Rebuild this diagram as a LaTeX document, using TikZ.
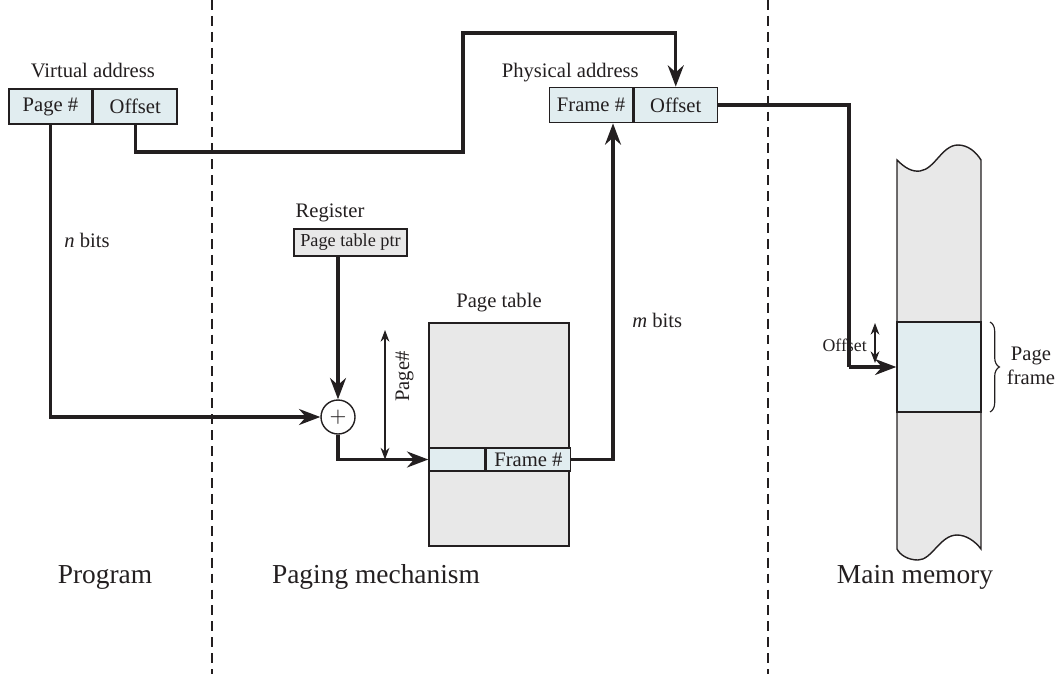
\documentclass[tikz,border=0pt]{standalone}
\usepackage{fontspec}
\setmainfont{Liberation Serif}
\usetikzlibrary{arrows.meta,calc,positioning,decorations.pathreplacing}
\definecolor{AddrBlue}{RGB}{225,237,240}
\definecolor{TableGrey}{RGB}{232,232,232}
\definecolor{InkDark}{RGB}{35,31,32}

\begin{document}
\begin{tikzpicture}[>=Stealth, x=0.015cm, y=-0.015cm,
    every node/.style={font=\fontsize{8.8}{10.5}\selectfont, text=InkDark},
    field/.style={draw=InkDark, fill=AddrBlue, line width=0.6pt,
        minimum width=1.25cm, minimum height=0.53cm, inner sep=0pt},
    regbox/.style={draw=InkDark, fill=TableGrey, line width=0.6pt,
        minimum width=1.7cm, minimum height=0.405cm, inner sep=0pt,
        font=\fontsize{7.8}{9}\selectfont},
    conn/.style={draw=InkDark, line width=1.35pt},
    idx/.style={draw=InkDark, line width=0.5pt, {Stealth[length=5pt]}-{Stealth[length=5pt]}},
    divider/.style={draw=InkDark, line width=1.1pt, dash pattern=on 4.2pt off 2.6pt},
    zone/.style={font=\fontsize{11.7}{14}\selectfont}]
\useasboundingbox (0,0) rectangle (1059,674);

% zone borders
\draw[divider] (212,0) -- (212,674);
\draw[divider] (768,0) -- (768,674);

% virtual address
\node[field] (vpage) at (50.5,106.5) {Page \#};
\node[field, right=0pt of vpage] (voff) {Offset};
\node[above=1pt of vpage.north east] (vlabel) {Virtual address};

% physical address
\node[field] (ppage) at (591,105) {Frame \#};
\node[field, right=0pt of ppage] (poff) {Offset};
\node[anchor=east] (plabel) at (647,73) {Physical address};

% register and adder
\node[regbox] (reg) at (350.5,242.5) {Page table ptr};
\node (rlabel) at (330,213) {Register};
\node[draw=InkDark, fill=white, circle, line width=0.6pt, minimum size=0.51cm,
    inner sep=0pt] (circ) at (338,417) {$+$};

% page table
\node[draw=InkDark, fill=TableGrey, line width=0.6pt, minimum width=2.1cm,
    minimum height=3.345cm] (ptab) at (499,434.5) {};
\node[above=1pt of ptab] (tlabel) {Page table};
\node[field, minimum width=0.84cm, minimum height=0.345cm] (pent) at (457,459.5) {};
\node[field, minimum width=1.26cm, minimum height=0.345cm, right=0pt of pent] (pframe) {Frame \#};

% main memory
\draw[draw=InkDark, fill=TableGrey, line width=0.6pt]
    (897,160) .. controls (905,168) and (912,172) .. (920,171)
    .. controls (935,169) and (942,145) .. (958,145)
    .. controls (968,145) and (976,152) .. (981,160) -- (981,549)
    .. controls (975,541) and (966,535) .. (957,535)
    .. controls (940,535) and (932,560) .. (918,560)
    .. controls (908,560) and (900,555) .. (897,549) -- cycle;
\node[field, minimum width=1.26cm, minimum height=1.35cm] (pfrm) at (939,367) {};
\draw[decorate, decoration={brace, amplitude=4pt}, line width=0.5pt, draw=InkDark]
    (990,322) -- (990,412);
\node[align=center] (flabel) at (1031,366) {Page\\frame};

% connectors
\coordinate (ovA) at (463,152);
\coordinate (ovB) at (463,33);
\draw[conn, ->] (vpage.south) |- (circ.west);
\draw[conn, ->] (voff.south) |- (ovA) -- (ovB) -| (poff.north);
\draw[conn, ->] (reg.south -| circ.north) -- (circ.north);
\draw[conn, ->] (circ.south) |- (pent.west);
\draw[conn, ->] (pframe.east) -| ([xshift=0.33cm]ppage.south);
\draw[conn] (poff.east) -| (849,367) coordinate (mjog);
\draw[conn, ->] (mjog) -- (pfrm.west);

% index arrows
\coordinate (pgtop) at (385,330);
\draw[idx] (pgtop) -- (pgtop |- pent.west)
    node[pos=0.36, right=1pt, rotate=90, anchor=north] (pglabel) {Page\#};
\coordinate (ofA) at (875,323);
\coordinate (ofB) at (875,363);
\draw[idx] (ofA) -- (ofB);
\node[left=0pt of ofA, anchor=north east, yshift=-0.12cm,
    font=\fontsize{7.6}{9}\selectfont] (olabel) {Offset};

% bit labels
\node (nbits) at (87,240) {\textit{n} bits};
\node[anchor=west] (mbits) at (624,320) {\textit{m} bits};

% zone names
\node[zone] (zprog) at (105,577) {Program};
\node[zone] (zpage) at (376,577) {Paging mechanism};
\node[zone] (zmem) at (915,577) {Main memory};
\end{tikzpicture}
\end{document}
